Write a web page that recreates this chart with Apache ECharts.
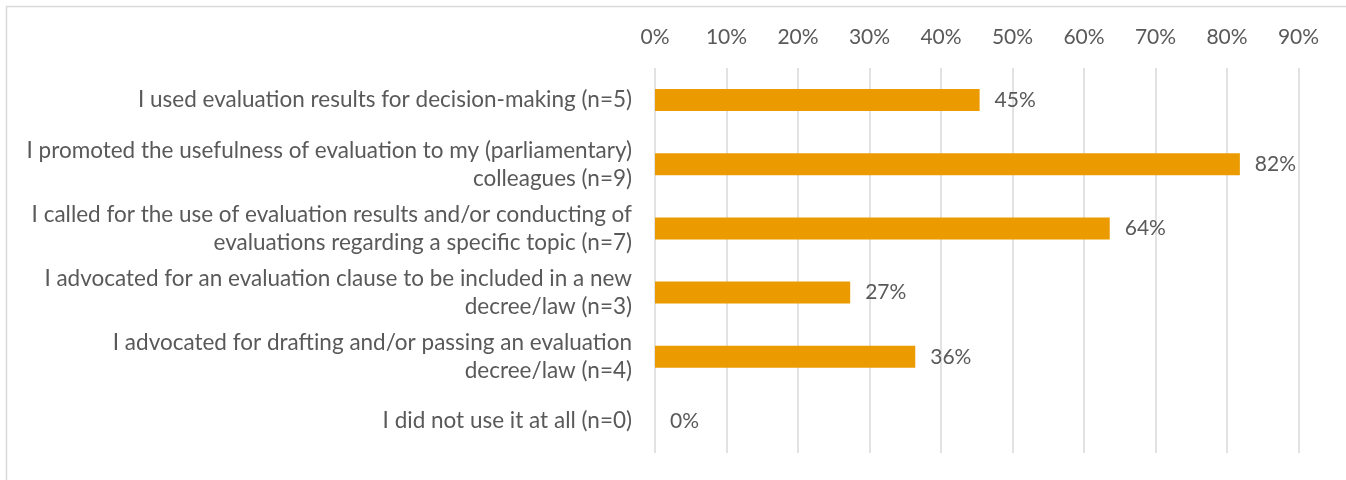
<!DOCTYPE html>
<html>
<head>
<meta charset="utf-8">
<script src="https://cdn.jsdelivr.net/npm/echarts@6/dist/echarts.min.js"></script>
<style>html,body{margin:0;padding:0;background:#fff;}#c{width:1346px;height:480px;}</style>
</head>
<body>
<div id="c"></div>
<script>
const categories = [
  "I used evaluation results for decision-making (n=5)",
  "I promoted the usefulness of evaluation to my (parliamentary)\ncolleagues (n=9)",
  "I called for the use of evaluation results and/or conducting of\nevaluations regarding a specific topic (n=7)",
  "I advocated for an evaluation clause to be included in a new\ndecree/law (n=3)",
  "I advocated for drafting and/or passing an evaluation\ndecree/law (n=4)",
  "I did not use it at all (n=0)"
];
const values = [45.4, 81.8, 63.6, 27.3, 36.4, 0];
const tickMin = 0, tickMax = 90, tickStep = 10;

const FONT = "Lato, 'Open Sans', sans-serif";
const TXT = '#595959';
const chart = echarts.init(document.getElementById('c'));
chart.setOption({
  animation: false,
  backgroundColor: '#fff',
  graphic: [{
    type: 'rect', shape: { x: 6.5, y: 6.5, width: 1400, height: 600 },
    style: { fill: 'none', stroke: '#d9d9d9', lineWidth: 1.5 }, silent: true, z: -1
  }],
  grid: { left: 655, right: 47.5, top: 68, bottom: 27, containLabel: false },
  xAxis: {
    type: 'value', position: 'top', min: tickMin, max: tickMax, interval: tickStep,
    axisLine: { show: false }, axisTick: { show: false },
    axisLabel: { formatter: '{value}%', color: TXT, fontSize: 21, fontFamily: FONT, margin: 20 },
    splitLine: { show: true, lineStyle: { color: '#d9d9d9', width: 1.5 } }
  },
  yAxis: {
    type: 'category', inverse: true, data: categories,
    axisLine: { show: false }, axisTick: { show: false },
    axisLabel: { color: TXT, fontSize: 22.5, fontFamily: FONT, margin: 23, lineHeight: 28, align: 'right' }
  },
  series: [{
    type: 'bar', data: values, barWidth: 22,
    itemStyle: { color: '#EB9B00' },
    label: {
      show: true, position: 'right', distance: 15, color: TXT, fontSize: 21, fontFamily: FONT,
      formatter: p => Math.round(p.value) + '%'
    }
  }]
});
</script>
</body>
</html>
